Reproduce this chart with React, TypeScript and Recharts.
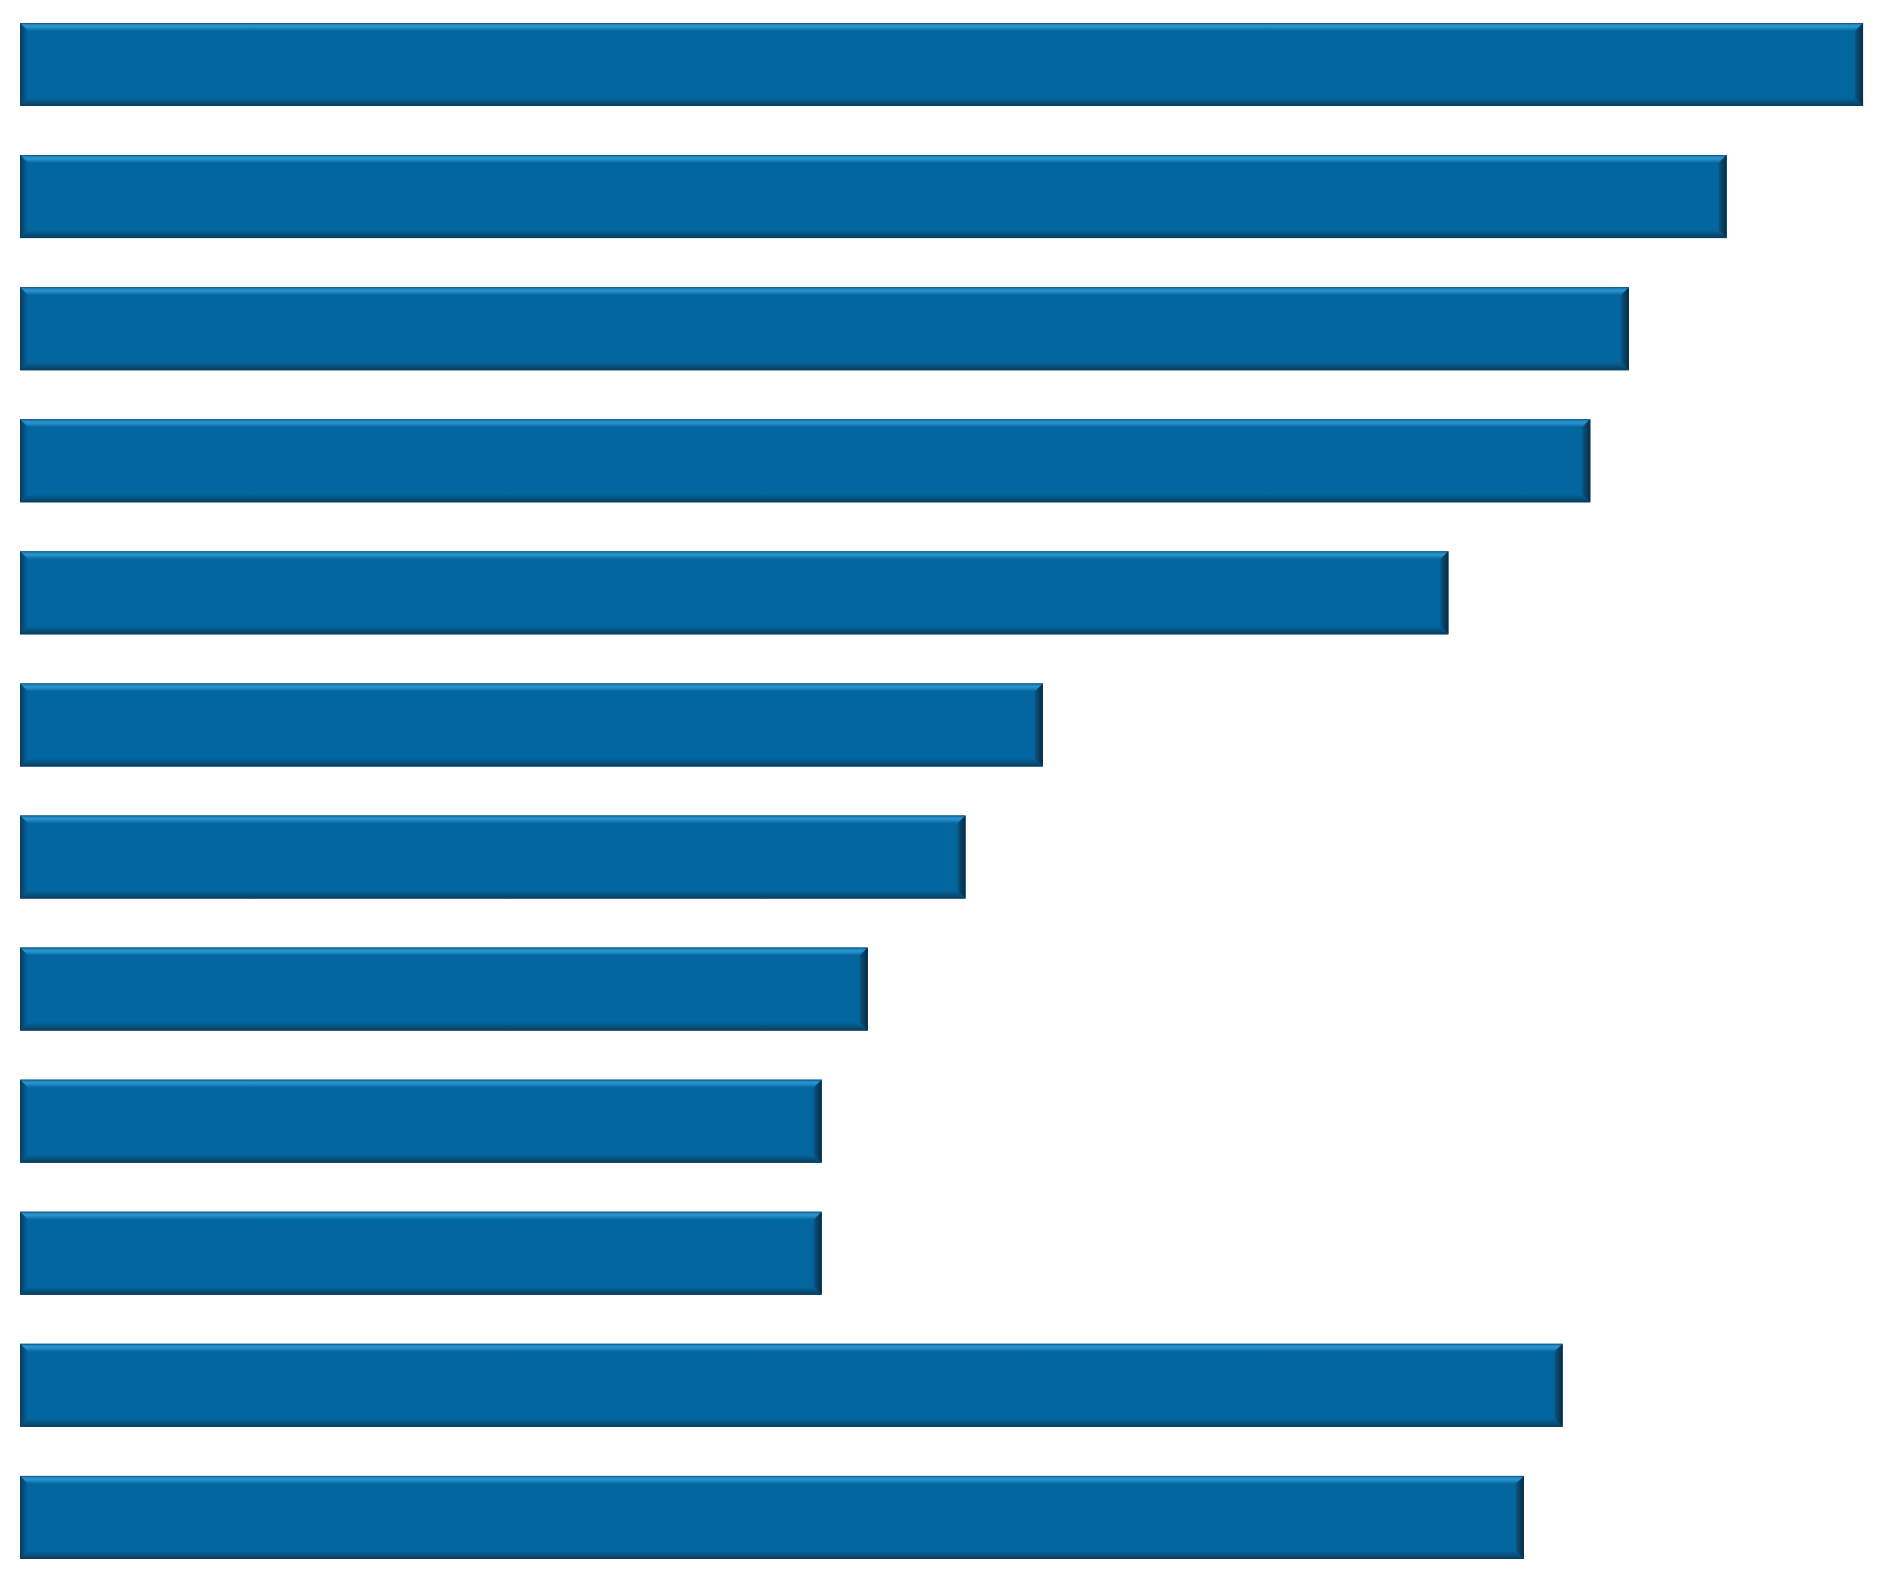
import React from "react";
import { BarChart, Bar, XAxis, YAxis } from "recharts";

const categories = ["A", "B", "C", "D", "E", "F", "G", "H", "I", "J", "K", "L"];
const values = [100, 92.6, 87.3, 85.2, 77.5, 55.5, 51.3, 46.0, 43.5, 43.5, 83.7, 81.6];

const data = categories.map((name, i) => ({ name, value: values[i] }));

const MAIN = "#03669f";
const LIGHT = "#2b94cf";
const DARK = "#0b5582";
const EDGE = "#0a3d5c";

// bevelled bar, like the office "3d" preset
const BevelBar = (props: any) => {
	const { x, y, width, height } = props;
	if (!width || width <= 0) return null;
	const b = 8;
	return (
		<g>
			<rect x={x} y={y} width={width} height={height} fill={MAIN} />
			{/* top */}
			<polygon
				points={`${x},${y} ${x + width},${y} ${x + width - b},${y + b} ${x + b},${y + b}`}
				fill="url(#bevTop)"
			/>
			{/* bottom */}
			<polygon
				points={`${x},${y + height} ${x + width},${y + height} ${x + width - b},${y + height - b} ${x + b},${y + height - b}`}
				fill="url(#bevBottom)"
			/>
			{/* left */}
			<polygon
				points={`${x},${y} ${x + b},${y + b} ${x + b},${y + height - b} ${x},${y + height}`}
				fill="url(#bevLeft)"
			/>
			{/* right */}
			<polygon
				points={`${x + width},${y} ${x + width - b},${y + b} ${x + width - b},${y + height - b} ${x + width},${y + height}`}
				fill="url(#bevRight)"
			/>
			<rect
				x={x + 0.5}
				y={y + 0.5}
				width={width - 1}
				height={height - 1}
				fill="none"
				stroke={EDGE}
				strokeOpacity={0.5}
				strokeWidth={1}
			/>
		</g>
	);
};

export default function App() {
	return (
		<div style={{ position: "absolute", left: 0, top: 0, background: "#fff" }}>
			<BarChart
				width={1887}
				height={1583}
				data={data}
				layout="vertical"
				margin={{ top: -2, right: 0, bottom: 0, left: 20 }}
				barSize={83}
			>
				<defs>
					<linearGradient id="bevTop" x1="0" y1="0" x2="0" y2="1">
						<stop offset="0%" stopColor="#1a7db6" />
						<stop offset="45%" stopColor={LIGHT} />
						<stop offset="100%" stopColor={MAIN} />
					</linearGradient>
					<linearGradient id="bevBottom" x1="0" y1="1" x2="0" y2="0">
						<stop offset="0%" stopColor={EDGE} />
						<stop offset="100%" stopColor={MAIN} />
					</linearGradient>
					<linearGradient id="bevLeft" x1="0" y1="0" x2="1" y2="0">
						<stop offset="0%" stopColor={EDGE} />
						<stop offset="100%" stopColor={MAIN} />
					</linearGradient>
					<linearGradient id="bevRight" x1="1" y1="0" x2="0" y2="0">
						<stop offset="0%" stopColor="#062b42" />
						<stop offset="100%" stopColor={DARK} />
					</linearGradient>
				</defs>
				<XAxis type="number" domain={[0, 101.3]} hide />
				<YAxis type="category" dataKey="name" hide />
				<Bar dataKey="value" shape={BevelBar} isAnimationActive={false} />
			</BarChart>
		</div>
	);
}
